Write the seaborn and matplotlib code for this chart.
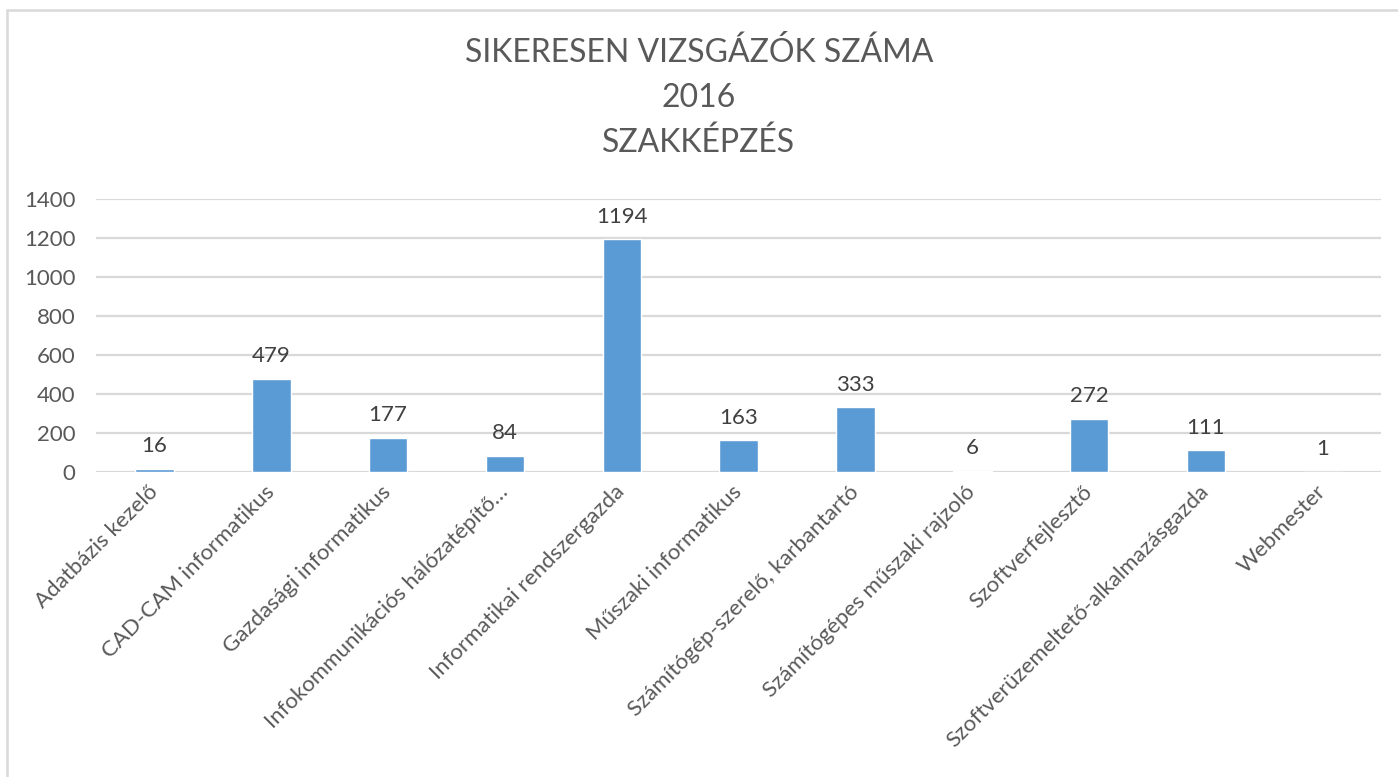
import matplotlib
matplotlib.use("Agg")
import matplotlib.pyplot as plt
import seaborn as sns
import pandas as pd

# data
szakmak = ["Adatbázis kezelő", "CAD-CAM informatikus", "Gazdasági informatikus",
           "Infokommunikációs hálózatépítő…", "Informatikai rendszergazda",
           "Műszaki informatikus", "Számítógép-szerelő, karbantartó",
           "Számítógépes műszaki rajzoló", "Szoftverfejlesztő",
           "Szoftverüzemeltető-alkalmazásgazda", "Webmester"]
letszam = [16, 479, 177, 84, 1194, 163, 333, 6, 272, 111, 1]
yticks = [0, 200, 400, 600, 800, 1000, 1200, 1400]

df = pd.DataFrame({"szakma": szakmak, "db": letszam})

sns.set_style("white")
plt.rcParams["font.family"] = ["Lato", "DejaVu Sans"]
txt = "#595959"
grid = "#d9d9d9"

fig = plt.figure(figsize=(13.98, 7.77), dpi=100)
ax = fig.add_axes([0.0687, 0.3925, 0.9193, 0.3514])

sns.barplot(data=df, x="szakma", y="db", color="#5b9bd5", width=0.33,
            saturation=1, ax=ax, zorder=3)

ax.set_ylim(0, 1400)
ax.set_yticks(yticks)
ax.set_xlim(-0.5, len(szakmak) - 0.5)
for v in yticks:
    ax.axhline(v, color=grid, lw=1.6, zorder=1)
for s in ax.spines.values():
    s.set_visible(False)
ax.tick_params(axis="both", length=0, colors=txt, labelsize=16)
ax.tick_params(axis="y", pad=15)
ax.tick_params(axis="x", pad=12)
ax.set_xlabel("")
ax.set_ylabel("")
plt.setp(ax.get_xticklabels(), rotation=45, ha="right", va="center",
         rotation_mode="anchor", color=txt)

ax.bar_label(ax.containers[0], padding=9, fontsize=16, color="#404040")

fig.text(0.5, 0.933, "SIKERESEN VIZSGÁZÓK SZÁMA", ha="center", va="center",
         fontsize=23, color=txt)
fig.text(0.5, 0.874, "2016", ha="center", va="center", fontsize=23, color=txt)
fig.text(0.5, 0.816, "SZAKKÉPZÉS", ha="center", va="center", fontsize=23, color=txt)

# outer chart frame (top and left edges visible)
fig.add_artist(plt.Line2D([0.005, 1.0], [0.987, 0.987], color=grid, lw=1.8,
                          transform=fig.transFigure))
fig.add_artist(plt.Line2D([0.005, 0.005], [0.0, 0.987], color=grid, lw=1.8,
                          transform=fig.transFigure))

fig.savefig("out.png", dpi=100)
